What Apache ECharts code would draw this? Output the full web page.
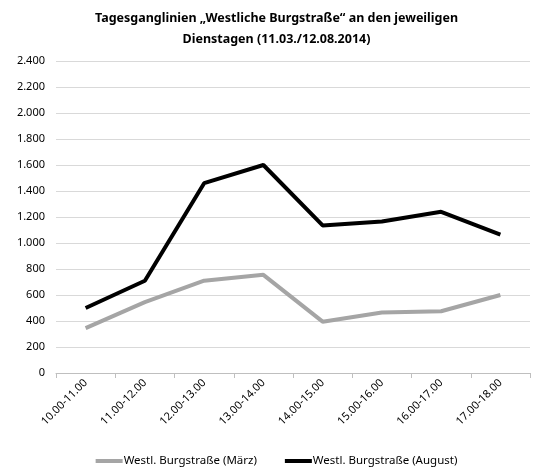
<!DOCTYPE html>
<html>
<head>
<meta charset="utf-8">
<script src="https://cdn.jsdelivr.net/npm/echarts@6/dist/echarts.min.js"></script>
<style>
  html, body { margin: 0; padding: 0; background: #fff; }
  #chart { width: 553px; height: 472px; }
</style>
</head>
<body>
<div id="chart"></div>
<script>
// Time slots on the x axis
const slots = ['10.00-11.00', '11.00-12.00', '12.00-13.00', '13.00-14.00',
  '14.00-15.00', '15.00-16.00', '16.00-17.00', '17.00-18.00'];

// Counts per slot
const maerz = [345, 545, 710, 755, 395, 465, 475, 600];
const august = [500, 710, 1460, 1600, 1135, 1165, 1240, 1065];

const nameMaerz = 'Westl. Burgstraße (März)';
const nameAugust = 'Westl. Burgstraße (August)';

// German thousands separator
const fmt = (v) => String(v).replace(/\B(?=(\d{3})+(?!\d))/g, '.');

const font = 'Noto Sans, sans-serif';

const chart = echarts.init(document.getElementById('chart'));
chart.setOption({
  animation: false,
  title: {
    text: 'Tagesganglinien „Westliche Burgstraße“ an den jeweiligen\nDienstagen (11.03./12.08.2014)',
    left: 'center',
    top: 3,
    textStyle: {
      fontFamily: font,
      fontSize: 12.5,
      fontWeight: 'bold',
      color: '#000',
      lineHeight: 21
    }
  },
  legend: {
    bottom: 0,
    left: 'center',
    itemGap: 28,
    itemWidth: 27,
    itemHeight: 4,
    icon: 'rect',
    textStyle: { fontFamily: font, fontSize: 11.5, color: '#000', padding: [0, 0, 0, -4] },
    data: [nameMaerz, nameAugust]
  },
  grid: { left: 56, right: 23, top: 61, bottom: 99 },
  xAxis: {
    type: 'category',
    data: slots,
    boundaryGap: true,
    axisLine: { lineStyle: { color: '#bfbfbf' } },
    axisTick: { show: true, length: 5, lineStyle: { color: '#bfbfbf' } },
    axisLabel: {
      rotate: 45,
      fontFamily: font,
      fontSize: 11,
      color: '#000',
      margin: 8,
      interval: 0
    }
  },
  yAxis: {
    type: 'value',
    min: 0,
    max: 2400,
    interval: 200,
    axisLine: { show: false },
    axisTick: { show: false },
    splitLine: { lineStyle: { color: '#d9d9d9' } },
    axisLabel: {
      fontFamily: font,
      fontSize: 11,
      color: '#000',
      margin: 11,
      formatter: fmt
    }
  },
  series: [
    {
      name: nameMaerz,
      type: 'line',
      data: maerz,
      symbol: 'none',
      lineStyle: { color: '#a5a5a5', width: 4 },
      itemStyle: { color: '#a5a5a5' }
    },
    {
      name: nameAugust,
      type: 'line',
      data: august,
      symbol: 'none',
      lineStyle: { color: '#000', width: 4 },
      itemStyle: { color: '#000' }
    }
  ]
});
</script>
</body>
</html>
